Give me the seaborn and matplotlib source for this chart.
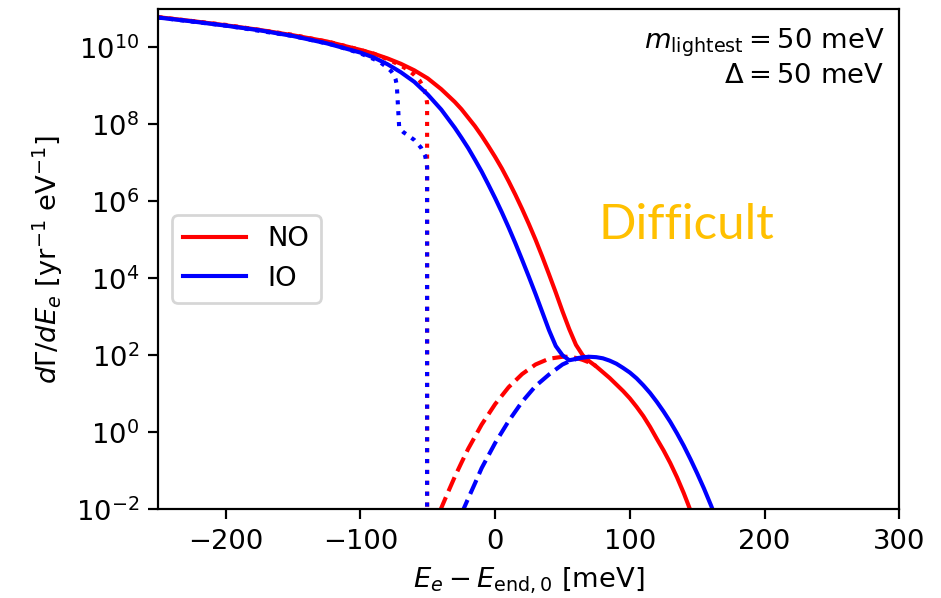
import numpy as np
import pandas as pd
import matplotlib
matplotlib.use("Agg")
import matplotlib.pyplot as plt
import seaborn as sns
from matplotlib.ticker import NullLocator

# ---- data (x in meV, values as log10 of dGamma/dE) ----
no_total_x = [-250, -225, -200, -175, -150, -125, -100, -90, -80, -70, -60, -50, -40, -30,
              -25, -20, -15, -10, -5, 0, 5, 10, 15, 20, 25, 30, 35, 40, 45, 50, 55, 60, 65,
              70, 75, 80, 85, 90, 95, 100, 105, 110, 115, 120, 125, 130, 135, 140, 143, 147]
no_total_log = [10.78, 10.68, 10.57, 10.45, 10.31, 10.15, 9.93, 9.83, 9.71, 9.57, 9.40, 9.19,
                8.91, 8.58, 8.39, 8.17, 7.95, 7.70, 7.43, 7.15, 6.85, 6.52, 6.17, 5.80, 5.41,
                5.00, 4.56, 4.10, 3.63, 3.14, 2.68, 2.27, 2.00, 1.84, 1.71, 1.56, 1.41, 1.24,
                1.07, 0.88, 0.66, 0.42, 0.14, -0.17, -0.47, -0.80, -1.17, -1.58, -1.85, -2.22]

io_total_x = [-250, -225, -200, -175, -150, -125, -100, -90, -80, -70, -60, -50, -40, -30,
              -25, -20, -15, -10, -5, 0, 5, 10, 15, 20, 25, 30, 35, 40, 45, 50, 55, 58, 62,
              66, 70, 75, 80, 85, 90, 95, 100, 105, 110, 115, 120, 125, 130, 135, 140, 145,
              150, 155, 160, 164]
io_total_log = [10.77, 10.67, 10.56, 10.44, 10.29, 10.10, 9.86, 9.73, 9.56, 9.35, 9.10, 8.77,
                8.38, 7.91, 7.65, 7.38, 7.08, 6.77, 6.43, 6.08, 5.71, 5.32, 4.91, 4.48, 4.04,
                3.59, 3.12, 2.65, 2.24, 2.00, 1.87, 1.89, 1.93, 1.95, 1.96, 1.95, 1.92, 1.86,
                1.78, 1.67, 1.55, 1.40, 1.22, 1.02, 0.79, 0.54, 0.27, -0.03, -0.35, -0.70,
                -1.07, -1.46, -1.88, -2.23]

no_cnb_x = [-41, -35, -30, -25, -20, -10, 0, 10, 20, 30, 40, 50, 55, 60, 65, 70, 75]
no_cnb_log = [-2.05, -1.56, -1.16, -0.79, -0.43, 0.20, 0.73, 1.17, 1.51, 1.76, 1.91, 1.96,
              1.96, 1.93, 1.88, 1.81, 1.72]

io_cnb_x = [-25, -20, -15, -10, 0, 10, 20, 30, 40, 50, 55, 60, 65, 70, 73]
io_cnb_log = [-2.12, -1.72, -1.33, -0.93, -0.28, 0.29, 0.79, 1.20, 1.50, 1.76, 1.84, 1.90,
              1.94, 1.96, 1.96]

no_beta_x = [-250, -200, -150, -120, -100, -90, -80, -75, -70, -65, -60, -56, -53, -51.5,
             -50.5, -50.5]
no_beta_log = [10.78, 10.58, 10.32, 10.11, 9.93, 9.83, 9.69, 9.61, 9.52, 9.42, 9.28, 9.13,
               8.95, 8.78, 8.55, -6.0]

io_beta_x = [-250, -200, -150, -120, -100, -90, -85, -80, -77, -75, -74, -73, -71.2, -68,
             -65, -60, -55, -52, -51, -50.5, -50.5]
io_beta_log = [10.77, 10.56, 10.29, 10.06, 9.84, 9.69, 9.60, 9.47, 9.37, 9.27, 9.18, 9.02,
               7.90, 7.79, 7.72, 7.59, 7.39, 7.18, 7.02, 6.88, -6.0]

x_ticks = [-200, -100, 0, 100, 200, 300]
y_ticks = [1e-2, 1e0, 1e2, 1e4, 1e6, 1e8, 1e10]
colors = {"NO": "red", "IO": "blue"}

DPI = 197
fig = plt.figure(figsize=(941.3 / DPI, 598.3 / DPI), dpi=DPI)
ax = fig.add_axes([158.3 / 941, 1 - 509.3 / 598, (899 - 158.3) / 941, (509.3 - 9) / 598])


def draw(xs, logs, color, ls, label=None):
    df = pd.DataFrame({"x": xs, "y": np.power(10.0, logs)})
    sns.lineplot(data=df, x="x", y="y", color=color, linestyle=ls, lw=1.5,
                 estimator=None, sort=False, ax=ax, label=label)


draw(no_total_x, no_total_log, colors["NO"], "-", "NO")
draw(no_cnb_x, no_cnb_log, colors["NO"], "--")
draw(no_beta_x, no_beta_log, colors["NO"], ":")
draw(io_total_x, io_total_log, colors["IO"], "-", "IO")
draw(io_cnb_x, io_cnb_log, colors["IO"], "--")
draw(io_beta_x, io_beta_log, colors["IO"], ":")

ax.set_yscale("log")
ax.set_xlim(-250, 300)
ax.set_ylim(1e-2, 1e11)
ax.set_xticks(x_ticks)
ax.set_yticks(y_ticks)
ax.yaxis.set_minor_locator(NullLocator())
ax.set_xlabel(r"$E_e - E_{\rm end,0}$ [meV]")
ax.set_ylabel(r"$d\Gamma/dE_e$ [yr$^{-1}$ eV$^{-1}$]")

ax.legend(loc="center left", handlelength=2.3)

ax.text(0.98, 0.965,
        r"$m_{\rm lightest} = 50\ {\rm meV}$" + "\n" + r"$\Delta = 50\ {\rm meV}$",
        transform=ax.transAxes, ha="right", va="top", multialignment="right")

fig.text(598 / 941, 1 - 239 / 598, "Difficult", color="#FFC000",
         family=["Lato", "DejaVu Sans"], fontweight="normal", fontsize=18,
         ha="left", va="baseline")

fig.savefig("out.png", dpi=DPI)
